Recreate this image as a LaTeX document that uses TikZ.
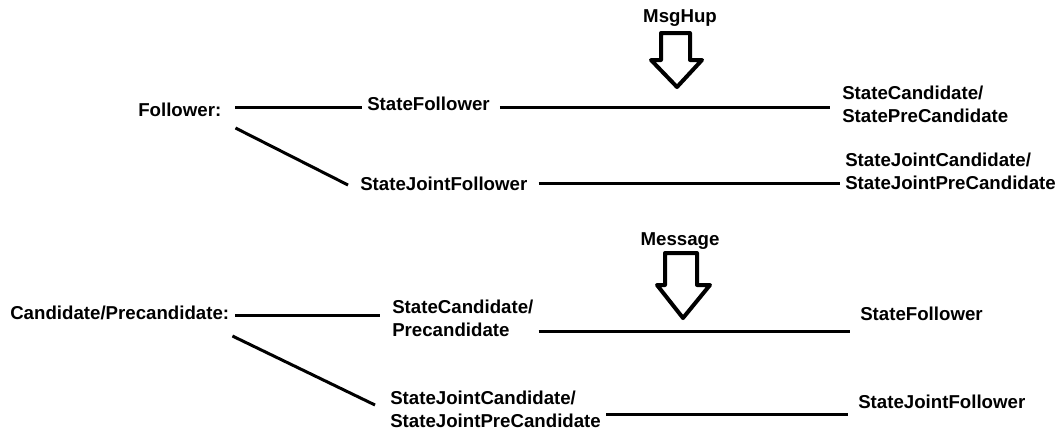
\documentclass[tikz,border=0pt]{standalone}
\usepackage{fontspec}
\setmainfont{Liberation Sans}
\usetikzlibrary{positioning}

\begin{document}
\begin{tikzpicture}[x=0.75pt,y=-0.75pt,
  lbl/.style={anchor=west,inner sep=0pt,align=left,
    font=\bfseries\fontsize{14}{17.25}\selectfont},
  link/.style={line width=2.25pt},
  hollow/.style={line width=3pt,line join=round,fill=white}]
\useasboundingbox (0,0) rectangle (1059,432);

% follower part
\node[lbl] (fol) at (138,110) {Follower:};
\node[lbl] (sf) at (367,104) {StateFollower};
\node[lbl] (scand) at (842,104.5) {StateCandidate/\\StatePreCandidate};
\node[lbl] (sjf) at (360,184) {StateJointFollower};
\node[lbl] (sjcand) at (845,171.5) {StateJointCandidate/\\StateJointPreCandidate};
\node[lbl,anchor=center] (hup) at (680,18) {MsgHup};

\draw[link] ([shift={(14,-3)}]fol.east) -- ([shift={(-5,3)}]sf.west);
\draw[link] ([shift={(10,3)}]sf.east) -- ([shift={(-12,2.5)}]scand.west);
\draw[link] ([shift={(14,18)}]fol.east) -- ([shift={(-12,1)}]sjf.west);
\draw[link] ([shift={(11,-1)}]sjf.east) -- ([shift={(-5,11.5)}]sjcand.west);

\draw[hollow] (661,33) -- (690,33) -- (690,60) -- (702,60) -- (677,87)
  -- (651,60) -- (661,60) -- cycle;

% candidate part
\node[lbl] (cand) at (10,313) {Candidate/Precandidate:};
\node[lbl] (scp) at (392,318.5) {StateCandidate/\\Precandidate};
\node[lbl] (tf) at (860,314) {StateFollower};
\node[lbl] (sjcp) at (390,409.5) {StateJointCandidate/\\StateJointPreCandidate};
\node[lbl] (tjf) at (858,402) {StateJointFollower};
\node[lbl,anchor=center] (msg) at (680,241) {Message};

\draw[link] ([shift={(6,2)}]cand.east) -- ([shift={(-12,-3.5)}]scp.west);
\draw[link] ([shift={(5,12.5)}]scp.east) -- ([shift={(-10,17)}]tf.west);
\draw[link] ([shift={(3,23)}]cand.east) -- ([shift={(-15,-4.5)}]sjcp.west);
\draw[link] ([shift={(5,4.5)}]sjcp.east) -- ([shift={(-10,12)}]tjf.west);

\draw[hollow] (665,253) -- (697,253) -- (697,285) -- (710,285) -- (683,318)
  -- (657,285) -- (665,285) -- cycle;
\end{tikzpicture}
\end{document}
